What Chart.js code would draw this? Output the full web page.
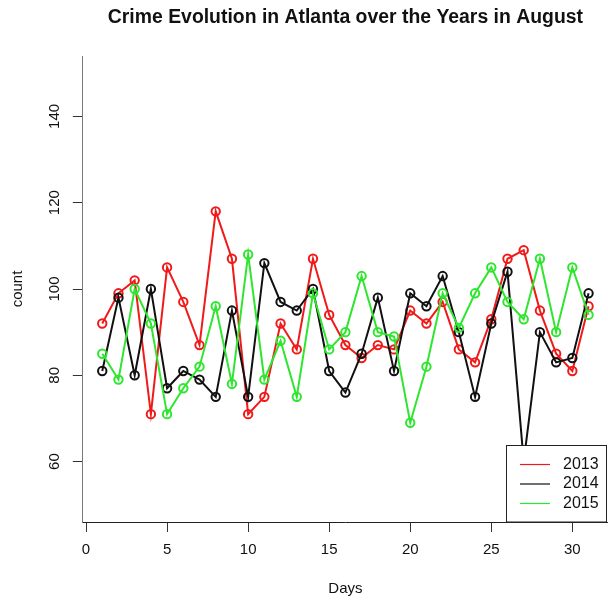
<!DOCTYPE html>
<html>
<head>
<meta charset="utf-8">
<script src="https://cdn.jsdelivr.net/npm/chart.js@4/dist/chart.umd.min.js"></script>
<style>
  html, body { margin: 0; padding: 0; background: #fff; }
  #wrap { width: 608px; height: 604px; }
</style>
</head>
<body>
<div id="wrap"><canvas id="chart" width="608" height="604"></canvas></div>
<script>
// Daily crime counts for August, one series per year
const days = [1,2,3,4,5,6,7,8,9,10,11,12,13,14,15,16,17,18,19,20,21,22,23,24,25,26,27,28,29,30,31];
const counts2013 = [92,99,102,71,105,97,87,118,107,71,75,92,86,107,94,87,84,87,86,95,92,97,86,83,93,107,109,95,85,81,96];
const counts2014 = [81,98,80,100,77,81,79,75,95,75,106,97,95,100,81,76,85,98,81,99,96,103,90,75,92,104,60,90,83,84,99];
const counts2015 = [85,79,100,92,71,77,82,96,78,108,79,88,75,99,86,90,103,90,89,69,82,99,91,99,105,97,93,107,90,105,94];
const years = ['2013', '2014', '2015'];
const xTicks = [0, 5, 10, 15, 20, 25, 30];
const yTicks = [60, 80, 100, 120, 140];

const titleText = 'Crime Evolution in Atlanta over the Years in August';
const FONT = "'Liberation Sans', Arial, Helvetica, sans-serif";
const colors = ['#f01a1a', '#111111', '#2ee62e'];

function series(values) {
  return days.map((d, i) => ({ x: d, y: values[i] }));
}

function makeDataset(label, values, color, order) {
  return {
    label: label,
    data: series(values),
    borderColor: color,
    backgroundColor: color,
    borderWidth: 2,
    pointRadius: 4.2,
    pointHoverRadius: 4.2,
    pointBorderWidth: 2,
    pointBorderColor: color,
    pointBackgroundColor: 'rgba(0,0,0,0)',
    tension: 0,
    order: order
  };
}

// Bold title centred over the plotting region
const headline = {
  id: 'headline',
  afterDraw(chart) {
    const { ctx, chartArea } = chart;
    ctx.save();
    ctx.font = 'bold 19.4px ' + FONT;
    ctx.fillStyle = '#111';
    ctx.textAlign = 'center';
    ctx.textBaseline = 'middle';
    ctx.fillText(titleText, (chartArea.left + chartArea.right) / 2, 18);
    ctx.restore();
  }
};

// Boxed legend in the lower right corner of the plot
const boxLegend = {
  id: 'boxLegend',
  afterDatasetsDraw(chart) {
    const { ctx, chartArea } = chart;
    const right = chartArea.right - 1.5;
    const left = 506.5;
    const top = 445.5;
    const bottom = chartArea.bottom;
    ctx.save();
    ctx.fillStyle = '#fff';
    ctx.fillRect(left, top, right - left, bottom - top);
    ctx.strokeStyle = '#222';
    ctx.lineWidth = 1;
    ctx.strokeRect(left, top, right - left, bottom - top);
    ctx.font = '16px ' + FONT;
    ctx.textAlign = 'left';
    ctx.textBaseline = 'middle';
    chart.data.datasets.forEach((ds, i) => {
      const y = 464.5 + i * 19.5;
      ctx.strokeStyle = ds.borderColor;
      ctx.lineWidth = 1.2;
      ctx.beginPath();
      ctx.moveTo(520, y);
      ctx.lineTo(550, y);
      ctx.stroke();
      ctx.fillStyle = '#111';
      ctx.fillText(ds.label, 563, y);
    });
    ctx.restore();
  }
};

new Chart(document.getElementById('chart'), {
  type: 'line',
  data: {
    datasets: [
      makeDataset(years[0], counts2013, colors[0], 3),
      makeDataset(years[1], counts2014, colors[1], 2),
      makeDataset(years[2], counts2015, colors[2], 1)
    ]
  },
  options: {
    responsive: false,
    animation: false,
    devicePixelRatio: 1,
    layout: { autoPadding: false, padding: { top: 56, left: 0, right: 0, bottom: 0 } },
    plugins: {
      legend: { display: false },
      title: { display: false },
      tooltip: { enabled: false }
    },
    scales: {
      x: {
        type: 'linear',
        min: -0.2,
        max: 32.2,
        afterBuildTicks(scale) { scale.ticks = xTicks.map(v => ({ value: v })); },
        afterFit(scale) { scale.height = 82; scale.paddingLeft = 0; scale.paddingRight = 0; },
        grid: { drawOnChartArea: false, drawTicks: true, tickLength: 10, tickColor: '#333', tickWidth: 1 },
        border: { display: true, color: '#222', width: 1 },
        ticks: {
          font: { size: 15, family: FONT },
          color: '#111',
          padding: 8.5,
          maxRotation: 0,
          autoSkip: false
        },
        title: {
          display: true,
          text: 'Days',
          font: { size: 15, family: FONT },
          color: '#111',
          padding: { top: 0, bottom: 6 }
        }
      },
      y: {
        type: 'linear',
        min: 46,
        max: 154,
        afterBuildTicks(scale) { scale.ticks = yTicks.map(v => ({ value: v })); },
        afterFit(scale) { scale.width = 82.8; scale.paddingTop = 0; scale.paddingBottom = 0; },
        grid: { drawOnChartArea: false, drawTicks: true, tickLength: 10, tickColor: '#333', tickWidth: 1 },
        border: { display: true, color: '#777', width: 1 },
        ticks: {
          font: { size: 15, family: FONT },
          color: '#111',
          padding: 5.3,
          minRotation: 90,
          maxRotation: 90,
          crossAlign: 'center',
          autoSkip: false
        },
        title: {
          display: true,
          text: 'count',
          font: { size: 15, family: FONT },
          color: '#111',
          padding: { top: 8.7, bottom: 0 }
        }
      }
    }
  },
  plugins: [headline, boxLegend]
});
</script>
</body>
</html>
